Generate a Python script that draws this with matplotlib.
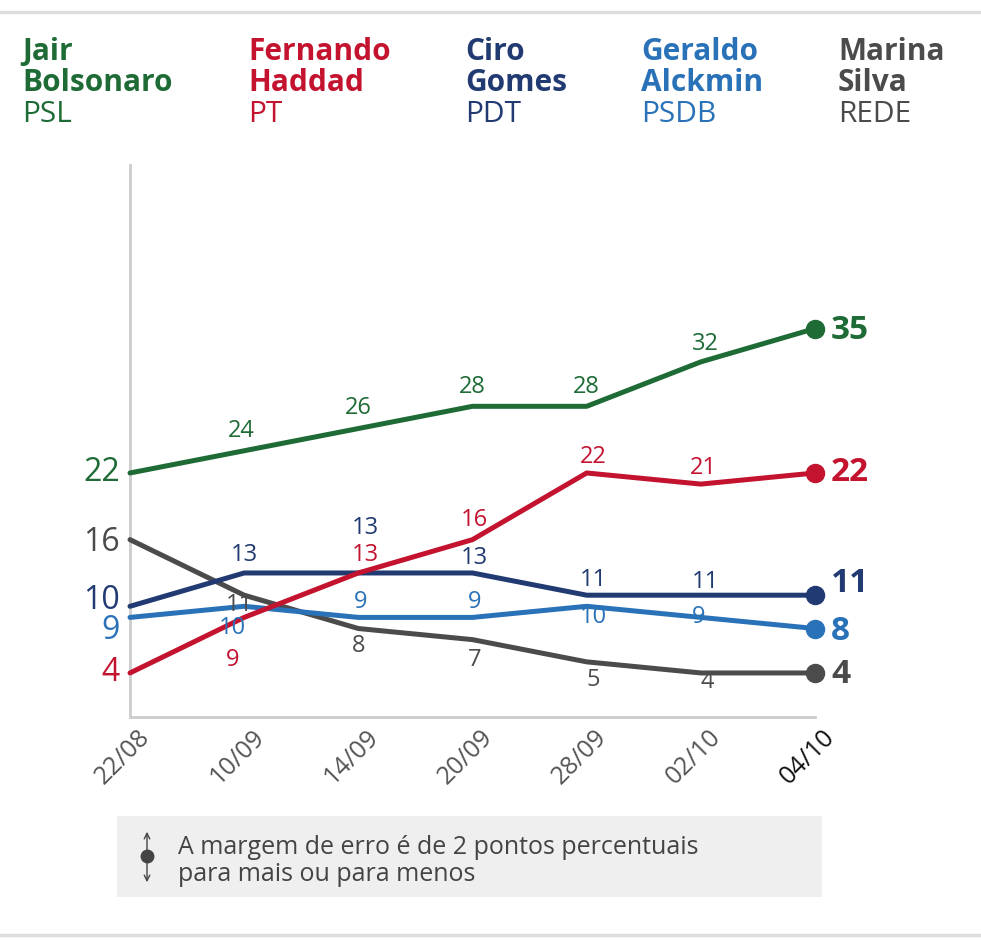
import matplotlib
matplotlib.use("Agg")
import matplotlib.pyplot as plt
from matplotlib.patches import Rectangle, FancyArrowPatch
from matplotlib.lines import Line2D
from matplotlib.transforms import ScaledTranslation

plt.rcParams['font.family'] = ['Open Sans', 'DejaVu Sans']

dates = ["22/08", "10/09", "14/09", "20/09", "28/09", "02/10", "04/10"]
bolsonaro = [22, 24, 26, 28, 28, 32, 35]
haddad = [4, 9, 13, 16, 22, 21, 22]
ciro = [10, 13, 13, 13, 11, 11, 11]
alckmin = [9, 10, 9, 9, 10, 9, 8]
marina = [16, 11, 8, 7, 5, 4, 4]

names = [("Jair", "Bolsonaro", "PSL"), ("Fernando", "Haddad", "PT"),
         ("Ciro", "Gomes", "PDT"), ("Geraldo", "Alckmin", "PSDB"),
         ("Marina", "Silva", "REDE")]
series = [bolsonaro, haddad, ciro, alckmin, marina]
colors = ["#1e6b36", "#c3132f", "#213a72", "#2a72b8", "#4b4b4b"]

# label offsets in pixels (dx, dy) for intermediate points 1..5
offsets = [
    [(-3, 20), (0, 21), (0, 19), (0, 19), (5, 18)],
    [(-12, -43), (7, 18), (2, 20), (7, 16), (3, 16)],
    [(0, 18), (7, 45), (2, 15), (7, 15), (5, 13)],
    [(-12, -22), (2, 15), (2, 15), (7, -11), (-2, 0)],
    [(-5, -10), (0, -17), (2, -20), (7, -18), (6, -9)],
]
first_dy = [0, 0, 6, -13, -3]
last_dy = [-2, 0, 12, -3, -2]

W, H = 981, 940
fig = plt.figure(figsize=(W / 100, H / 100), dpi=100)
x0, x1 = 130, 815
y0, y1 = 717.4, 165
ax = fig.add_axes([x0 / W, 1 - y0 / H, (x1 - x0) / W, (y0 - y1) / H])
ax.set_xlim(0, len(dates) - 1)
ax.set_ylim(0, (y0 - y1) / 11.11)

order = [4, 3, 2, 1, 0]
xs = list(range(len(dates)))
for i in order:
    ax.plot(xs, series[i], color=colors[i], lw=3.6, solid_joinstyle='round',
            solid_capstyle='round', zorder=3 + (4 - i) * 0.1, clip_on=False)
    ax.plot([xs[-1]], [series[i][-1]], 'o', color=colors[i], ms=13, zorder=5, clip_on=False)

for i, s in enumerate(series):
    c = colors[i]
    ax.annotate(str(s[0]), (0, s[0]), xytext=(-10, first_dy[i]), textcoords='offset pixels',
                ha='right', va='center', fontsize=23, color=c)
    for j in range(1, len(s) - 1):
        dx, dy = offsets[i][j - 1]
        ax.annotate(str(s[j]), (j, s[j]), xytext=(dx, dy), textcoords='offset pixels',
                    ha='center', va='center', fontsize=17, color=c, zorder=6)
    ax.annotate(str(s[-1]), (xs[-1], s[-1]), xytext=(16, last_dy[i]), textcoords='offset pixels',
                ha='left', va='center', fontsize=24, fontweight='bold', color=c)

for sp in ['top', 'right']:
    ax.spines[sp].set_visible(False)
for sp in ['left', 'bottom']:
    ax.spines[sp].set_color('#cccccc')
    ax.spines[sp].set_linewidth(2)
ax.set_yticks([])
ax.set_xticks(xs)
ax.set_xticklabels(dates, rotation=45, ha='center', va='center', fontsize=18,
                   rotation_mode='anchor')
ax.tick_params(axis='x', length=0, pad=0)
shift = ScaledTranslation(-7 / 100, -40 / 100, fig.dpi_scale_trans)
for k, t in enumerate(ax.get_xticklabels()):
    t.set_color('#111111' if k == len(dates) - 1 else '#555555')
    t.set_transform(t.get_transform() + shift)

# header
col_x = [22, 248, 465, 641, 838]
for i, (a, b, p) in enumerate(names):
    fx = col_x[i] / W
    fig.text(fx, 1 - 60 / H, a, ha='left', va='baseline', fontsize=21.5, fontweight='bold', color=colors[i])
    fig.text(fx, 1 - 91 / H, b, ha='left', va='baseline', fontsize=21.5, fontweight='bold', color=colors[i])
    fig.text(fx, 1 - 122 / H, p, ha='left', va='baseline', fontsize=21.5, color=colors[i])

# top/bottom rules
fig.add_artist(Line2D([0, 1], [1 - 12 / H, 1 - 12 / H], color='#dddddd', lw=2.5))
fig.add_artist(Line2D([0, 1], [1 - 935 / H, 1 - 935 / H], color='#dddddd', lw=2.5))

# note box
fig.add_artist(Rectangle((117 / W, 1 - 897 / H), (822 - 117) / W, (897 - 816) / H,
                         facecolor='#efefef', edgecolor='none', zorder=0))
ax_x = 147 / W
fig.add_artist(FancyArrowPatch((ax_x, 1 - 856 / H), (ax_x, 1 - 829 / H), arrowstyle='->',
                               mutation_scale=10, color='#444444', lw=1))
fig.add_artist(FancyArrowPatch((ax_x, 1 - 856 / H), (ax_x, 1 - 885 / H), arrowstyle='->',
                               mutation_scale=10, color='#444444', lw=1))
fig.add_artist(Line2D([ax_x], [1 - 856 / H], marker='o', ms=9, color='#444444'))
fig.text(178 / W, 1 - 854 / H, "A margem de erro é de 2 pontos percentuais",
         ha='left', va='baseline', fontsize=18, color='#444444')
fig.text(178 / W, 1 - 881 / H, "para mais ou para menos",
         ha='left', va='baseline', fontsize=18, color='#444444')

fig.savefig("out.png", dpi=100, facecolor='white')
